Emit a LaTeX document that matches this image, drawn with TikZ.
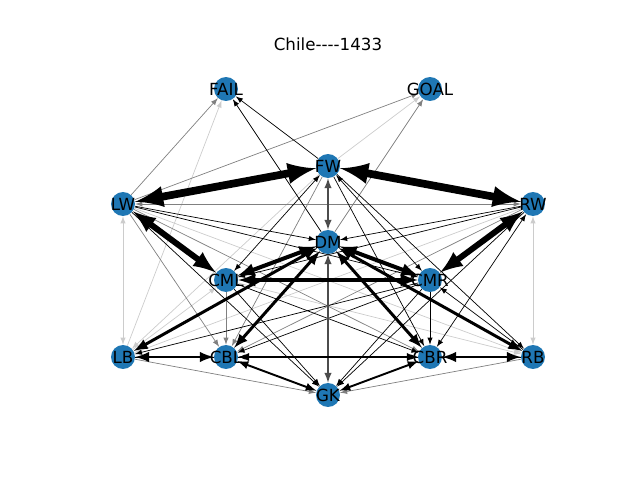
\documentclass[tikz,border=0pt]{standalone}
\usepackage{fontspec}
\setmainfont{DejaVu Sans}[Ligatures=TeXOff]
\usepackage{tikz}
\usetikzlibrary{backgrounds}
\definecolor{nodeblue}{HTML}{1F77B4}
\definecolor{ltgray}{rgb}{0.80, 0.80, 0.80}
\definecolor{mdgray}{rgb}{0.50, 0.50, 0.50}
\tikzstyle{player}=[circle,fill=nodeblue,draw=none,minimum size=0.48cm,inner sep=0pt]
\tikzstyle{tag}=[inner sep=0pt,font=\fontsize{9.5}{11}\selectfont]
\tikzstyle{passhuge}=[color=black,line width=4.4pt]
\tikzstyle{passbig}=[color=black,line width=3.4pt]
\tikzstyle{passmid}=[color=black,line width=2.3pt]
\tikzstyle{passsmall}=[color=black,line width=1.7pt]
\tikzstyle{passtiny}=[color=black,line width=1.1pt]
\tikzstyle{passdark}=[color=black!70,line width=0.9pt]
\tikzstyle{passthin}=[color=black,line width=0.4pt]
\tikzstyle{passgray}=[color=mdgray,line width=0.4pt]
\tikzstyle{passlight}=[color=ltgray,line width=0.4pt]

\begin{document}
\begin{tikzpicture}[>=latex,x=0.02cm,y=-0.02cm]

  \useasboundingbox (0,0) rectangle (640,480);

  % TITLE
  \node[tag] (title) at (328,44) {Chile----1433};

  % PLAYERS
  \node[player] (FAIL) at (226, 89) {};
  \node[player] (GOAL) at (430, 89) {};
  \node[player] (FW)   at (328,166) {};
  \node[player] (LW)   at (123,204) {};
  \node[player] (RW)   at (533,204) {};
  \node[player] (DM)   at (328,242) {};
  \node[player] (CML)  at (226,280) {};
  \node[player] (CMR)  at (430,280) {};
  \node[player] (LB)   at (123,357) {};
  \node[player] (CBL)  at (226,357) {};
  \node[player] (CBR)  at (430,357) {};
  \node[player] (RB)   at (533,357) {};
  \node[player] (GK)   at (328,395) {};

  % LABELS
  \foreach \p in {FAIL,GOAL,FW,LW,RW,DM,CML,CMR,LB,CBL,CBR,RB,GK}
    \node[tag] (tag\p) at (\p) {\p};

  \begin{scope}[on background layer]
  % LIGHT PASSES
  \draw[passlight,->] (FW) -- (GOAL);
  \draw[passlight,->] (LB) -- (FAIL);
  \draw[passlight,<->] (LW) -- (LB);
  \draw[passlight,<->] (RW) -- (RB);
  \draw[passlight,->] (LW) -- (RB);
  \draw[passlight,->] (RW) -- (LB);
  \draw[passlight,->] (FW) -- (LB);
  \draw[passlight,->] (LB) -- (CML);
  \draw[passlight,->] (CML) -- (RB);

  % GRAY PASSES
  \draw[passgray,<->] (LW) -- (RW);
  \draw[passgray,->] (LW) -- (FAIL);
  \draw[passgray,->] (LW) -- (GOAL);
  \draw[passgray,->] (DM) -- (GOAL);
  \draw[passgray,->] (LW) -- (CBL);
  \draw[passgray,->] (LW) -- (CBR);
  \draw[passgray,->] (RW) -- (CBL);
  \draw[passgray,->] (CML) -- (CBL);
  \draw[passgray,->] (LB) -- (GK);
  \draw[passgray,->] (RB) -- (GK);
  \draw[passgray,->] (FW) -- (CBL);

  % THIN PASSES
  \draw[passthin,->] (DM) -- (FAIL);
  \draw[passthin,->] (FW) -- (FAIL);
  \draw[passthin,->] (LW) -- (DM);
  \draw[passthin,->] (RW) -- (DM);
  \draw[passthin,->] (LW) -- (CMR);
  \draw[passthin,->] (LW) -- (GK);
  \draw[passthin,->] (RW) -- (CML);
  \draw[passthin,<->] (RW) -- (CBR);
  \draw[passthin,->] (RW) -- (GK);
  \draw[passthin,<->] (FW) -- (CML);
  \draw[passthin,<->] (FW) -- (CMR);
  \draw[passthin,->] (FW) -- (CBR);
  \draw[passthin,->] (FW) -- (RB);
  \draw[passthin,->] (CML) -- (GK);
  \draw[passthin,->] (CML) -- (CBR);
  \draw[passthin,->] (CMR) -- (CBR);
  \draw[passthin,->] (CMR) -- (GK);
  \draw[passthin,->] (CMR) -- (CBL);
  \draw[passthin,->] (CMR) -- (LB);
  \draw[passthin,->] (RB) -- (CMR);
  \draw[passthin,->] (RB) -- (CBL);
  \draw[passthin,->] (LB) -- (CBR);

  % HEAVY PASSES
  \draw[passdark,<->] (FW) -- (DM);
  \draw[passdark,<->] (DM) -- (GK);
  \draw[passtiny,<->] (CBL) -- (CBR);
  \draw[passtiny,<->] (CBL) -- (GK);
  \draw[passtiny,<->] (CBR) -- (GK);
  \draw[passsmall,<->] (DM) -- (LB);
  \draw[passsmall,<->] (DM) -- (CBL);
  \draw[passsmall,<->] (DM) -- (CBR);
  \draw[passsmall,<->] (DM) -- (RB);
  \draw[passsmall,<->] (LB) -- (CBL);
  \draw[passsmall,<->] (CBR) -- (RB);
  \draw[passmid,<->] (DM) -- (CML);
  \draw[passmid,<->] (DM) -- (CMR);
  \draw[passmid,<->] (CML) -- (CMR);
  \draw[passbig,<->] (LW) -- (CML);
  \draw[passbig,<->] (RW) -- (CMR);
  \draw[passhuge,<->] (LW) -- (FW);
  \draw[passhuge,<->] (FW) -- (RW);
  \end{scope}

\end{tikzpicture}
\end{document}
